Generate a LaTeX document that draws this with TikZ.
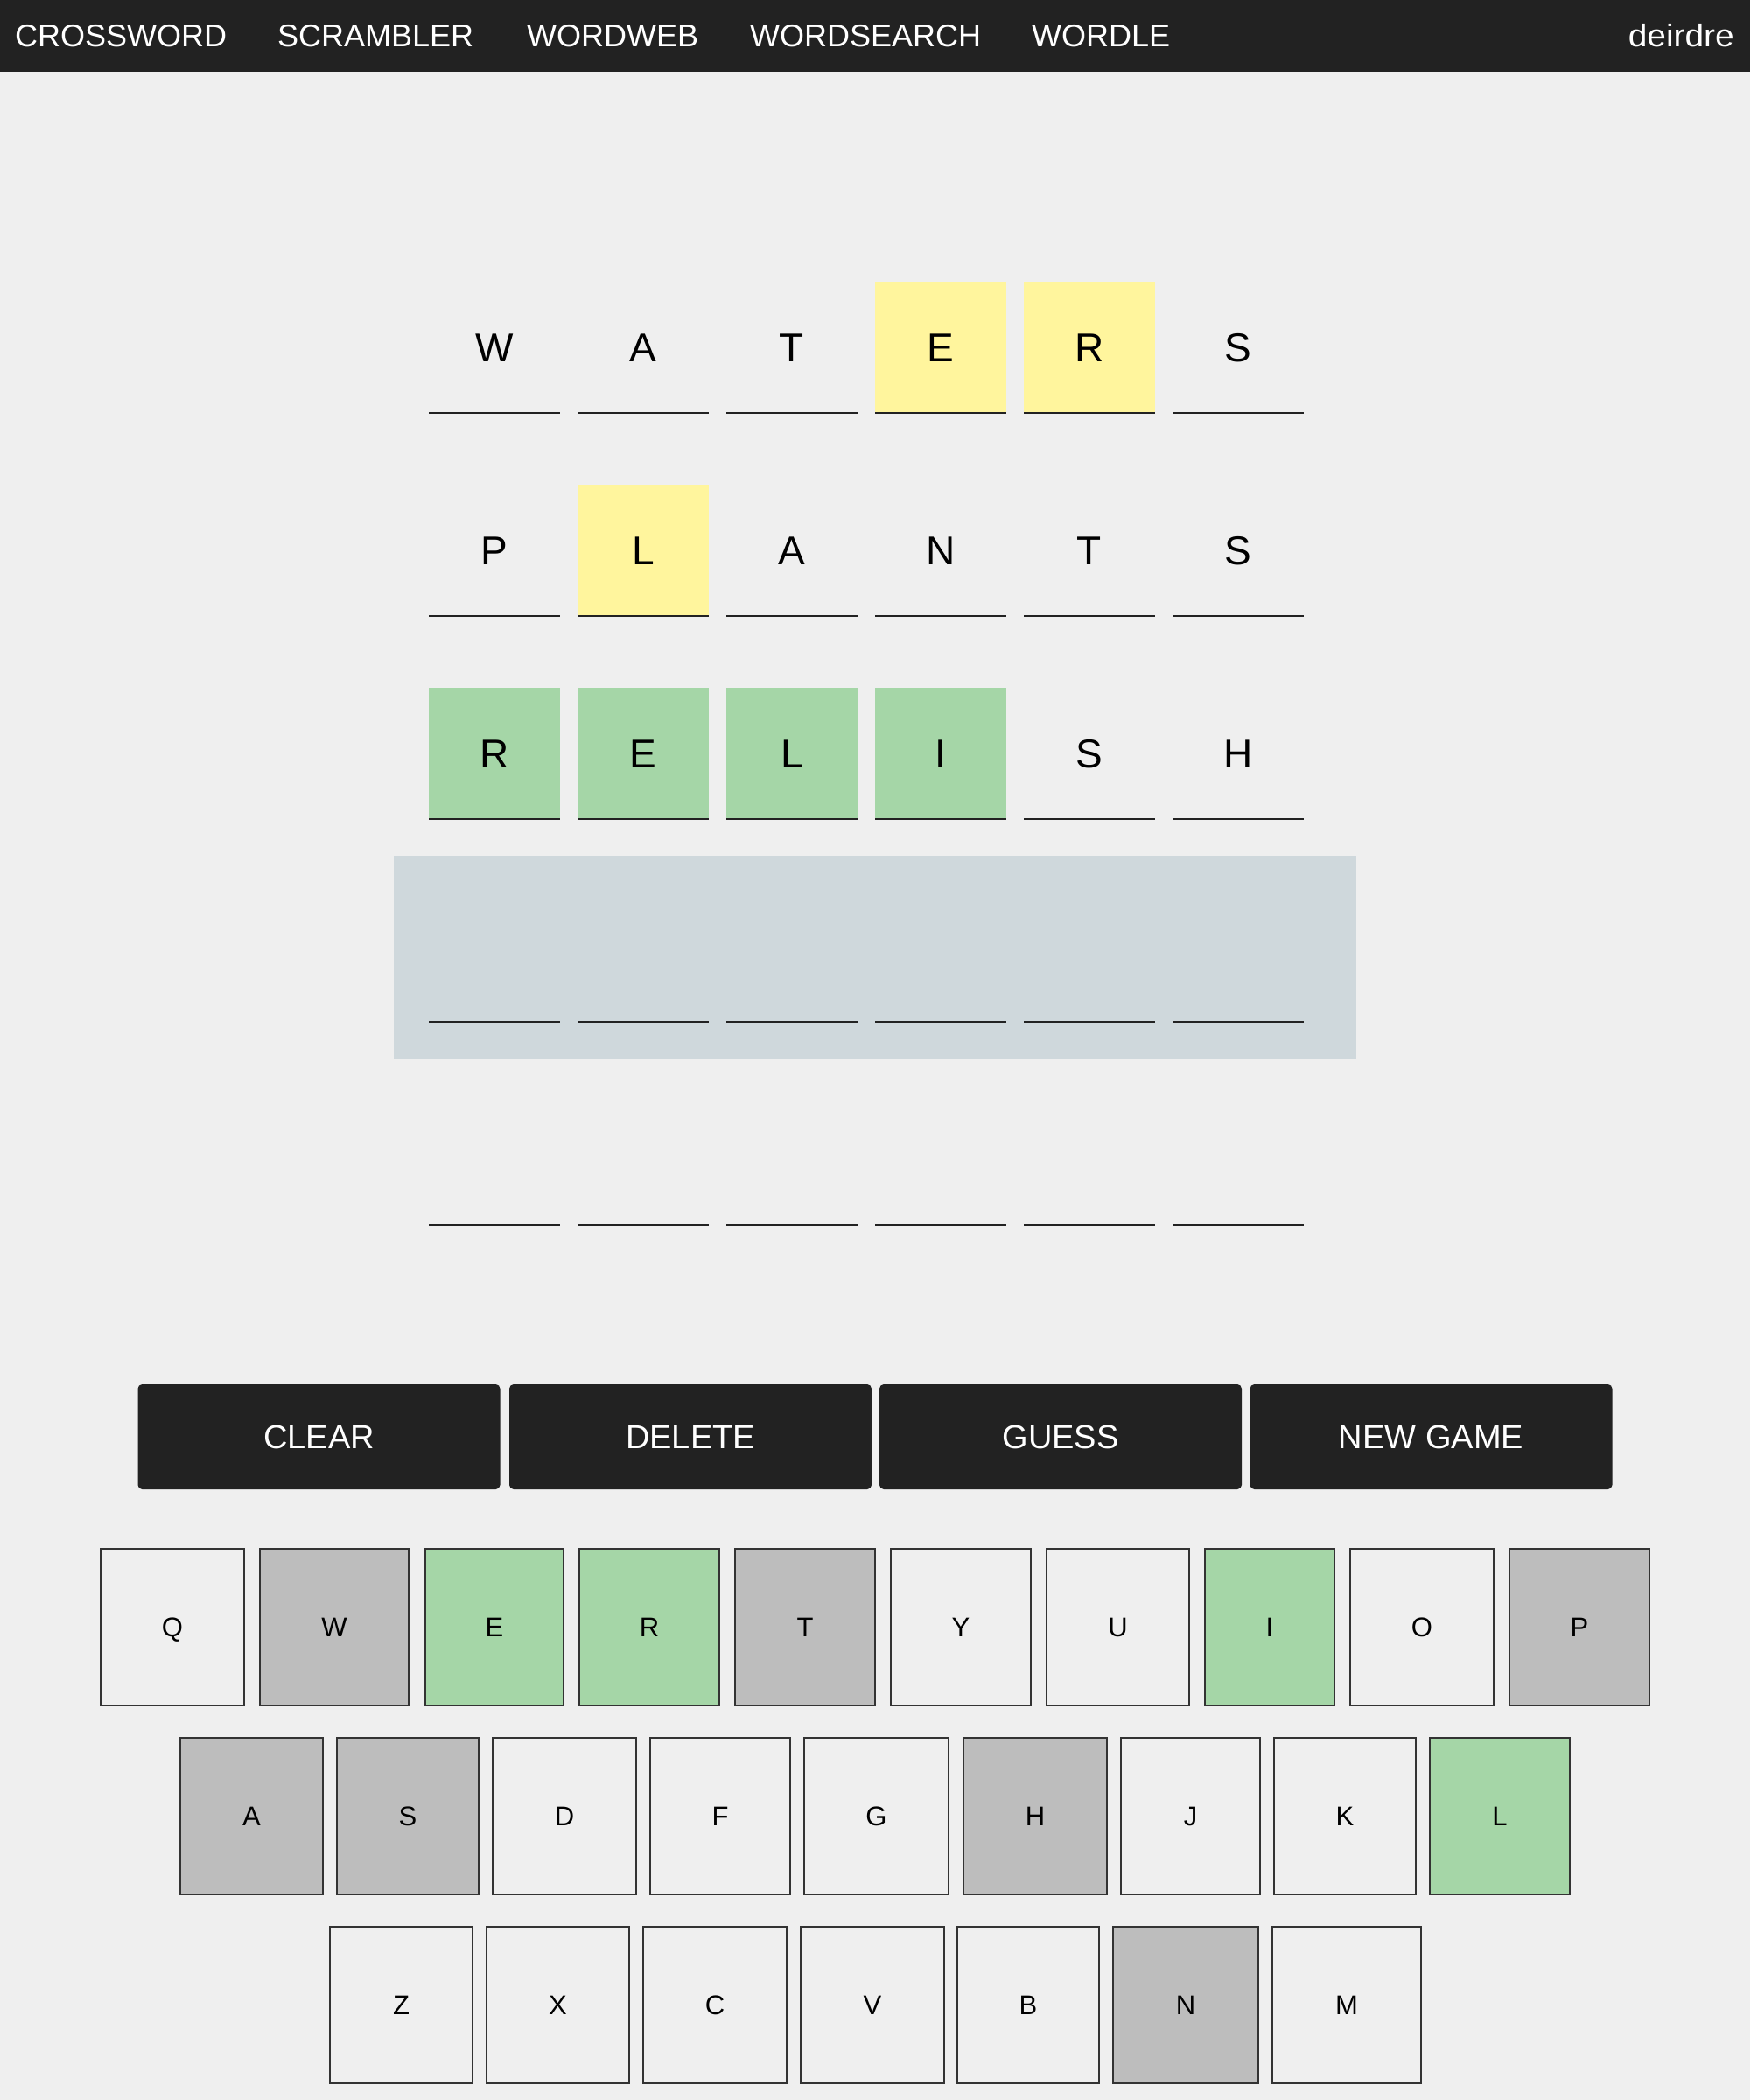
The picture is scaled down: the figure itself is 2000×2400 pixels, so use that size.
\documentclass[tikz,border=0pt]{standalone}
\usepackage{fontspec}
\setmainfont{Liberation Sans}
\newfontfamily\widefont[FakeStretch=1.08]{Liberation Sans}
\definecolor{bgc}{HTML}{EFEFEF}
\definecolor{barc}{HTML}{222222}
\definecolor{yel}{HTML}{FFF59D}
\definecolor{grn}{HTML}{A5D6A7}
\definecolor{hil}{HTML}{CFD8DC}
\definecolor{gry}{HTML}{BDBDBD}
\definecolor{lgt}{HTML}{EFEFEF}
\definecolor{keyline}{HTML}{333333}
\newcommand\gtile[5]{\node[gtilebox, fill=#4] (#1) at ({490+170*#2+75},{#3+75}) {#5};}
\begin{document}
\begin{tikzpicture}[x=1pt,y=-1pt,
  navtxt/.style={text=white, font=\fontsize{36}{40}\selectfont, inner sep=0pt},
  gtilebox/.style={minimum width=150pt, minimum height=150pt, inner sep=0pt,
    font=\fontsize{46}{52}\selectfont, text height=33pt, text depth=0pt},
  uline/.style={draw=barc, line width=2pt},
  btn/.style={fill=barc, rounded corners=5pt, text=white, font=\fontsize{38}{44}\selectfont,
    minimum width=414pt, minimum height=120pt, inner sep=0pt, text height=27pt, text depth=0pt},
  keybox/.style={draw=keyline, line width=2pt, inner sep=0pt, minimum height=179pt,
    font=\fontsize{31}{36}\selectfont, text height=22pt, text depth=0pt}]
% background and bounding box
\fill[bgc] (0,0) rectangle (2000,2400);
\useasboundingbox (0,0) rectangle (2000,2400);
% top bar
\fill[barc] (0,0) rectangle (2000,82);
\node[navtxt, anchor=base west] (nav1) at (17,54) {CROSSWORD};
\node[navtxt, anchor=base west] (nav2) at (317,54) {SCRAMBLER};
\node[navtxt, anchor=base west] (nav3) at (602,54) {WORDWEB};
\node[navtxt, anchor=base west] (nav4) at (857,54) {WORDSEARCH};
\node[navtxt, anchor=base west] (nav5) at (1179,54) {WORDLE};
\node[navtxt, anchor=base east, font=\widefont\fontsize{36}{40}\selectfont] (user) at (1982,54) {deirdre};
% current row highlight
\fill[hil] (450,978) rectangle (1550,1210);
% tiles
\gtile{t11}{0}{322}{bgc}{W}
\gtile{t12}{1}{322}{bgc}{A}
\gtile{t13}{2}{322}{bgc}{T}
\gtile{t14}{3}{322}{yel}{E}
\gtile{t15}{4}{322}{yel}{R}
\gtile{t16}{5}{322}{bgc}{S}
\gtile{t21}{0}{554}{bgc}{P}
\gtile{t22}{1}{554}{yel}{L}
\gtile{t23}{2}{554}{bgc}{A}
\gtile{t24}{3}{554}{bgc}{N}
\gtile{t25}{4}{554}{bgc}{T}
\gtile{t26}{5}{554}{bgc}{S}
\gtile{t31}{0}{786}{grn}{R}
\gtile{t32}{1}{786}{grn}{E}
\gtile{t33}{2}{786}{grn}{L}
\gtile{t34}{3}{786}{grn}{I}
\gtile{t35}{4}{786}{bgc}{S}
\gtile{t36}{5}{786}{bgc}{H}
% underlines
\foreach \y in {322,554,786,1018,1250}
  \foreach \i in {0,...,5}
    \draw[uline] ({490+170*\i},{\y+150}) -- ++(150,0);
% buttons
\node[btn] (bclear) at (364.5,1642) {CLEAR};
\node[btn] (bdelete) at (789,1642) {DELETE};
\node[btn] (bguess) at (1212,1642) {GUESS};
\node[btn] (bnew) at (1635.5,1642) {NEW GAME};
% keyboard
\foreach \l/\a/\b/\c in {Q/114/280/lgt, W/296/468/gry, E/485/645/grn, R/661/823/grn, T/839/1001/gry,
    Y/1017/1179/lgt, U/1195/1360/lgt, I/1376/1526/grn, O/1542/1708/lgt, P/1724/1886/gry}
  \node[keybox, fill=\c, minimum width={\b-\a-2}] (k\l) at ({(\a+\b)/2},1859.5) {\l};
\foreach \l/\a/\b/\c in {A/205/370/gry, S/384/548/gry, D/562/728/lgt, F/742/904/lgt, G/918/1085/lgt,
    H/1100/1266/gry, J/1280/1441/lgt, K/1455/1619/lgt, L/1633/1795/grn}
  \node[keybox, fill=\c, minimum width={\b-\a-2}] (k\l) at ({(\a+\b)/2},2075.5) {\l};
\foreach \l/\a/\b/\c in {Z/376/541/lgt, X/555/720/lgt, C/734/900/lgt, V/914/1080/lgt, B/1093/1257/lgt,
    N/1271/1439/gry, M/1453/1625/lgt}
  \node[keybox, fill=\c, minimum width={\b-\a-2}] (k\l) at ({(\a+\b)/2},2291.5) {\l};
\end{tikzpicture}
\end{document}
